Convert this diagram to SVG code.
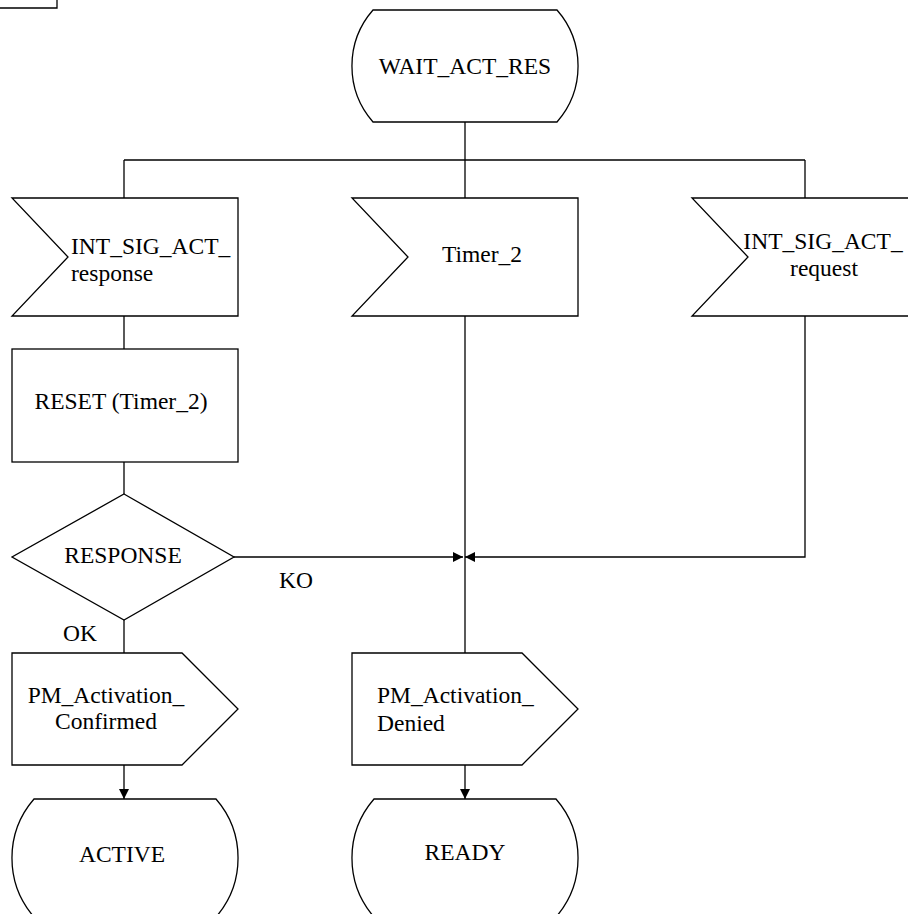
<svg xmlns="http://www.w3.org/2000/svg" width="908" height="914" viewBox="0 0 908 914">
<style>
.s{fill:#fff;stroke:#000;stroke-width:1.3}
.c{fill:none;stroke:#000;stroke-width:1.3}
text{font-family:"Liberation Serif","Times New Roman",serif;font-size:23.5px;fill:#000}
.m{text-anchor:middle}
</style>
<defs>
<marker id="ah" viewBox="0 0 10 10" refX="10" refY="5" markerWidth="11" markerHeight="10" markerUnits="userSpaceOnUse" orient="auto">
<path d="M0,0 L10,5 L0,10 Z" fill="#000"/>
</marker>
</defs>
<g id="corner"><path class="c" d="M0,8 H57 V0"/></g>
<g id="connectors">
<path class="c" d="M465,122 V160"/>
<path class="c" d="M124,160 H805"/>
<path class="c" d="M124,160 V198"/>
<path class="c" d="M465,160 V198"/>
<path class="c" d="M805,160 V198"/>
<path class="c" d="M124,316 V349"/>
<path class="c" d="M124,462 V494"/>
<path class="c" d="M124,620 V653"/>
<path class="c" d="M234,557 H463" marker-end="url(#ah)"/>
<path class="c" d="M805,316 V557 H465" marker-end="url(#ah)"/>
<path class="c" d="M465,316 V653"/>
<path class="c" d="M124,765 V799" marker-end="url(#ah)"/>
<path class="c" d="M465,765 V799" marker-end="url(#ah)"/>
</g>
<g id="wait_act_res">
<path class="s" d="M373,10 H557 A85,85 0 0 1 557,122 H373 A85,85 0 0 1 373,10 Z"/>
<text class="m" x="465" y="74">WAIT_ACT_RES</text>
</g>
<g id="in_response">
<path class="s" d="M12,198 H238 V316 H12 L68,257 Z"/>
<text x="71" y="254">INT_SIG_ACT_</text>
<text x="71" y="281">response</text>
</g>
<g id="in_timer2">
<path class="s" d="M352,198 H578 V316 H352 L408,257 Z"/>
<text x="442" y="262">Timer_2</text>
</g>
<g id="in_request">
<path class="s" d="M692,198 H918 V316 H692 L748,257 Z"/>
<text class="m" x="823" y="249">INT_SIG_ACT_</text>
<text class="m" x="824" y="276">request</text>
</g>
<g id="reset">
<rect class="s" x="12" y="349" width="226" height="113"/>
<text class="m" x="121" y="409">RESET (Timer_2)</text>
</g>
<g id="response">
<path class="s" d="M124,494 L234,557 L124,620 L12,557 Z"/>
<text class="m" x="123" y="563">RESPONSE</text>
</g>
<g id="labels">
<text x="279" y="588">KO</text>
<text x="63" y="641">OK</text>
</g>
<g id="out_confirmed">
<path class="s" d="M12,653 H182 L238,709 L182,765 H12 Z"/>
<text class="m" x="106" y="703">PM_Activation_</text>
<text class="m" x="106" y="729">Confirmed</text>
</g>
<g id="out_denied">
<path class="s" d="M352,653 H522 L578,709 L522,765 H352 Z"/>
<text x="377" y="703">PM_Activation_</text>
<text x="377" y="731">Denied</text>
</g>
<g id="active">
<path class="s" d="M34,799 H216 A90,90 0 0 1 216,917 H34 A90,90 0 0 1 34,799 Z"/>
<text class="m" x="122" y="862">ACTIVE</text>
</g>
<g id="ready">
<path class="s" d="M374,799 H556 A90,90 0 0 1 556,917 H374 A90,90 0 0 1 374,799 Z"/>
<text class="m" x="465" y="860">READY</text>
</g>
</svg>
